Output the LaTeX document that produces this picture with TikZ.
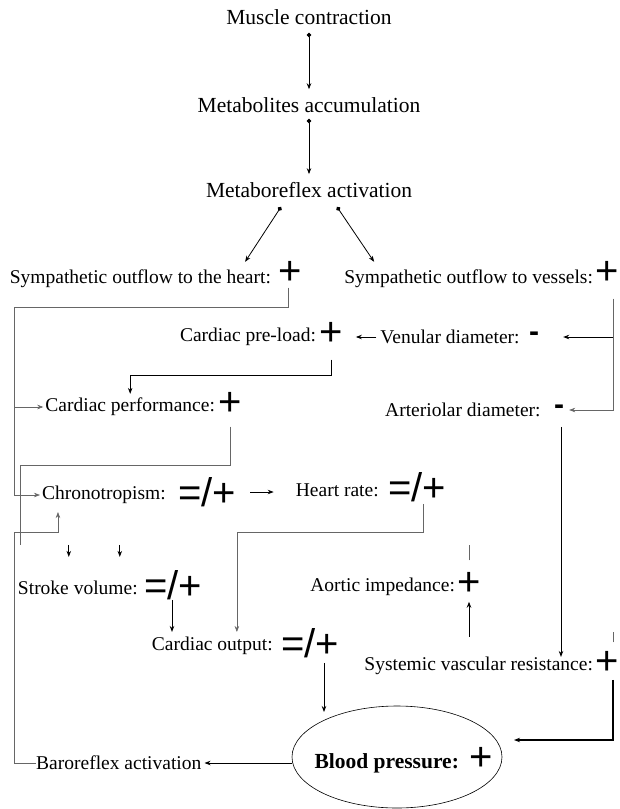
\documentclass[tikz,border=0pt]{standalone}
\usepackage{fontspec}
\setmainfont{Liberation Serif}
\newfontfamily\signfont{Liberation Sans}
\usetikzlibrary{shapes.geometric, arrows.meta, positioning}

\begin{document}
\begin{tikzpicture}[
    x=1pt, y=-1pt,
    stage/.style={inner sep=0pt, font=\fontsize{21.5}{24}\selectfont},
    factor/.style={inner sep=0pt, yshift=-3pt, font=\fontsize{19.5}{22}\selectfont},
    sgn/.style={inner sep=0pt, font=\signfont\fontsize{40}{40}\selectfont},
    minus/.style={inner sep=0pt, font=\signfont\bfseries\fontsize{30}{30}\selectfont},
    arrow/.style={-{Stealth[length=6pt, width=4.5pt]}, thick},
    trigger/.style={{Circle[length=4.5pt]}-{Stealth[length=6pt, width=4.5pt]}, thick},
    link/.style={draw=black!60, line width=0.6pt},
    linkarrow/.style={link, -{Stealth[length=6pt, width=4.5pt]}}
]
\useasboundingbox (0,0) rectangle (619,809);

% metaboreflex chain
\node[stage] (muscle) at (309,17) {Muscle contraction};
\node[stage] (metab) at (309,105) {Metabolites accumulation};
\node[stage] (reflex) at (309,190) {Metaboreflex activation};

% sympathetic outflow
\node[sgn] (heartp) at (290,273) {+};
\node[factor, left=7pt of heartp, yshift=-3pt] (heart) {Sympathetic outflow to the heart:};
\node[sgn] (vesselp) at (607,273) {+};
\node[factor, left=2pt of vesselp, yshift=-3pt] (vessel) {Sympathetic outflow to vessels:};

% pre-load and diameters
\node[sgn] (prelp) at (331,334) {+};
\node[factor, left=3pt of prelp] (prel) {Cardiac pre-load:};
\node[minus] (venm) at (534,337) {-};
\node[factor, left=9pt of venm, yshift=3pt] (ven) {Venular diameter:};
\node[sgn] (perfp) at (230,404) {+};
\node[factor, left=3pt of perfp] (perf) {Cardiac performance:};
\node[minus] (artm) at (559,410) {-};
\node[factor, left=13pt of artm, yshift=3pt] (art) {Arteriolar diameter:};

% heart and vessels
\node[sgn] (chronop) at (207,492) {=/+};
\node[factor, left=12pt of chronop] (chrono) {Chronotropism:};
\node[sgn] (hrp) at (417,487) {=/+};
\node[factor, left=9pt of hrp] (hr) {Heart rate:};
\node[sgn] (svp) at (173,585) {=/+};
\node[factor, left=6pt of svp] (sv) {Stroke volume:};
\node[sgn] (aortp) at (469,584) {+};
\node[factor, left=2pt of aortp] (aort) {Aortic impedance:};
\node[sgn] (cop) at (310,643) {=/+};
\node[factor, left=8pt of cop] (co) {Cardiac output:};
\node[sgn] (svrp) at (607,663) {+};
\node[factor, left=2pt of svrp] (svr) {Systemic vascular resistance:};

% blood pressure
\node[draw, ellipse, line width=0.6pt, minimum width=210pt, minimum height=102pt] (bp) at (397,757) {};
\node[sgn] (bpp) at (481,759) {+};
\node[stage, font=\fontsize{21.5}{24}\selectfont\bfseries, left=10pt of bpp, yshift=-4pt] (bptext) {Blood pressure:};
\node[factor, anchor=west] (baro) at (36,760) {Baroreflex activation};

\coordinate (heartbend) at (14,307);
\coordinate (perfbend) at (20,465);
\coordinate (perfend) at (20,545);
\coordinate (barobend) at (14,532);
\coordinate (heartdrop) at ([xshift=-2pt]heartp.south);
\coordinate (vesseldrop) at ([xshift=6pt]vesselp.south);
\coordinate (hrdrop) at ([xshift=6pt]hrp.south);
\coordinate (svdrop) at ([xshift=-1pt]svp.south);
\coordinate (codrop) at ([xshift=14pt]cop.south);
\coordinate (artdrop) at ([xshift=2pt]artm.south);
\coordinate (svrdrop) at ([xshift=6pt]svrp.south);
\coordinate (bpin) at (514,740);
\coordinate (bptop) at (324,712);

\draw[trigger, shorten <=8pt, shorten >=8pt] (muscle) -- (metab);
\draw[trigger, shorten <=6pt, shorten >=8pt] (metab) -- (reflex);
\draw[trigger] ([xshift=-28pt, yshift=-9pt]reflex.south) -- ([xshift=-26pt, yshift=8pt]heart.north east);
\draw[trigger] ([xshift=28pt, yshift=-9pt]reflex.south) -- ([xshift=30pt, yshift=8pt]vessel.north west);

\draw[linkarrow, shorten <=3pt, shorten >=2pt] (heartdrop) |- (heartbend) |- (chrono.west);
\draw[linkarrow, shorten >=2pt] (heartbend |- perf.west) -- (perf.west);

\draw[linkarrow, shorten <=14pt, shorten >=5pt] (vesseldrop) |- (artm.east);
\draw[arrow, shorten >=24pt] (vesseldrop |- venm.east) -- (venm.east);
\draw[arrow, shorten <=4pt, shorten >=13pt] (ven.west) -- (prelp.east |- ven.west);
\draw[arrow, shorten <=14pt, shorten >=4pt] (prelp.south) -- ++(0,30) -| (perf.north);

\draw[link, shorten <=11pt] (perfp.south) |- (perfbend) -- (perfend);
\draw[arrow] ([xshift=51pt, yshift=36pt]sv.north west) -- ([xshift=51pt, yshift=24pt]sv.north west);
\draw[arrow] ([xshift=102pt, yshift=36pt]sv.north west) -- ([xshift=102pt, yshift=24pt]sv.north west);

\draw[linkarrow] (baro.west) -| (barobend) -| ([xshift=16pt, yshift=-8pt]chrono.south west);
\draw[arrow, shorten <=14pt, shorten >=22pt] (chronop.east) -- (chronop.east -| hr.west);
\draw[linkarrow, shorten <=2pt, shorten >=5pt] (hrdrop) -- ++(0,30) -| ([xshift=-36pt]co.north east);
\draw[arrow, shorten >=5pt] (svdrop) -- (svdrop |- co.north);
\draw[arrow, shorten <=5pt] (codrop) -- (bptop);
\draw[arrow, shorten <=12pt] (artdrop) -- (artdrop |- svr.north);

% aortic impedance and resistance
\draw[link] ([yshift=12pt]aortp.north) -- ([yshift=27pt]aortp.north);
\draw[arrow] ([yshift=-41pt]aortp.south) -- ([yshift=-6pt]aortp.south);
\draw[link] ([xshift=6pt, yshift=9pt]svrp.north) -- ([xshift=6pt, yshift=19pt]svrp.north);
\draw[arrow, line width=1.2pt, shorten <=5pt] (svrdrop) |- (bpin);
\draw[arrow, shorten >=3pt] (bp.west |- baro.east) -- (baro.east);

\end{tikzpicture}
\end{document}
